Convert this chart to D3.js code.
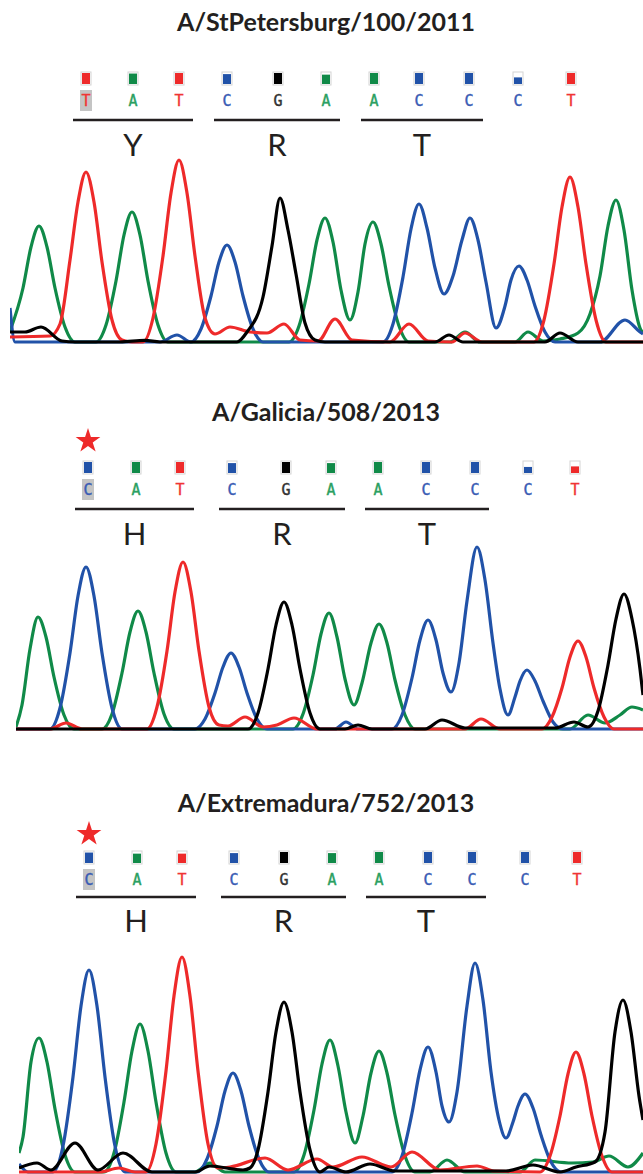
<!DOCTYPE html>
<html>
<head>
<meta charset="utf-8">
<script src="https://cdn.jsdelivr.net/npm/d3@7"></script>
<style>
  body { margin: 0; background: #fff; }
</style>
</head>
<body>
<svg id="chart"></svg>
<script>
// sample names and base calls
const titles = ["A/StPetersburg/100/2011", "A/Galicia/508/2013", "A/Extremadura/752/2013"];
const calls = ["TATCGAACCCT", "CATCGAACCCT", "CATCGAACCCT"];
const callScans = [
  [86, 133, 179, 227, 278, 326, 374, 419, 469, 518, 571],
  [88, 136, 180, 232, 286, 331, 378, 426, 475, 528, 575],
  [89, 137, 182, 234, 284, 332, 379, 428, 472, 525, 577]
];
const callQuality = [
  [1, 0.95, 1, 0.9, 1, 0.85, 1, 1, 1, 0.6, 1],
  [1, 1, 1, 0.9, 1, 0.9, 1, 1, 1, 0.55, 0.6],
  [0.95, 0.85, 0.85, 0.9, 1, 0.9, 1, 1, 1, 1, 1]
];
const codonLabels = [["Y", "R", "T"], ["H", "R", "T"], ["H", "R", "T"]];
const codonStarts = [0, 3, 6];
const starred = [false, true, true];

// trace points [scan, signal] per channel
const p1A = [[10,55],[23,270],[31,475],[39,580],[47,475],[55,270],[65,75],[75,0],[96,0],[106,85],[116,305],[124,535],[132,650],[140,535],[148,305],[158,85],[168,0],[289,0],[299,80],[309,290],[317,510],[325,620],[333,500],[341,260],[350,110],[358,250],[365,490],[373,600],[381,490],[389,280],[399,80],[409,0],[450,0],[465,50],[480,0],[515,0],[528,50],[543,5],[560,15],[578,45],[590,140],[600,330],[608,580],[616,710],[624,560],[632,260],[640,70],[643,45]];
const p1C = [[10,170],[15,0],[160,0],[177,35],[191,0],[201,65],[211,230],[219,400],[227,485],[235,400],[243,230],[253,65],[263,0],[383,0],[393,90],[403,325],[411,565],[419,690],[427,570],[435,370],[444,240],[453,330],[462,510],[470,620],[478,510],[486,300],[496,70],[505,180],[511,310],[519,380],[527,310],[535,180],[545,50],[555,0],[600,0],[625,110],[640,50],[643,40]];
const p1G = [[10,50],[25,50],[41,75],[62,5],[75,0],[120,0],[145,8],[160,0],[237,0],[247,50],[263,225],[272,480],[280,720],[288,560],[296,340],[305,95],[315,10],[325,0],[435,0],[449,35],[463,0],[545,0],[560,45],[578,0],[643,0]];
const p1T = [[10,25],[50,30],[60,90],[70,410],[78,700],[86,850],[94,700],[102,400],[112,110],[122,10],[132,0],[143,0],[153,120],[163,430],[171,745],[179,910],[187,745],[195,430],[205,120],[215,40],[230,75],[250,50],[267,45],[284,90],[300,10],[318,5],[335,115],[352,10],[390,0],[409,90],[428,5],[452,0],[465,45],[482,0],[534,0],[544,110],[554,390],[562,675],[570,825],[578,675],[586,390],[596,110],[606,0],[643,0]];

const p2A = [[16,10],[22,120],[30,400],[38,560],[46,460],[54,260],[64,70],[74,0],[102,0],[112,75],[122,280],[130,485],[138,590],[146,485],[154,280],[164,75],[174,0],[293,0],[303,75],[313,270],[321,475],[329,580],[337,460],[345,250],[354,120],[362,230],[371,430],[379,525],[387,430],[395,245],[405,70],[415,0],[570,0],[588,70],[605,30],[620,70],[632,110],[643,95]];
const p2C = [[16,0],[50,0],[60,105],[70,380],[78,665],[86,810],[94,665],[102,380],[112,105],[122,0],[195,0],[205,50],[215,180],[223,310],[231,380],[239,310],[247,180],[257,50],[267,0],[335,0],[346,35],[358,0],[392,0],[402,70],[412,255],[420,445],[428,545],[436,445],[443,280],[451,185],[459,330],[467,640],[477,910],[485,745],[493,430],[500,200],[508,70],[515,160],[520,240],[527,295],[535,240],[543,140],[553,35],[563,0],[643,0]];
const p2G = [[16,0],[248,0],[258,80],[268,300],[276,520],[284,635],[292,520],[300,300],[310,80],[320,0],[345,0],[358,20],[372,0],[425,0],[442,45],[465,5],[555,5],[574,35],[588,10],[598,90],[608,320],[616,550],[624,675],[632,550],[640,300],[643,170]];
const p2T = [[16,0],[50,0],[66,30],[82,0],[147,0],[157,110],[167,390],[175,685],[183,835],[191,685],[199,390],[209,110],[219,20],[228,15],[245,60],[263,10],[277,20],[294,55],[317,0],[465,0],[481,50],[500,0],[542,0],[552,60],[562,205],[570,360],[578,440],[586,360],[594,205],[604,60],[614,0],[643,0]];

const p3A = [[19,95],[23,175],[31,550],[39,670],[47,550],[55,315],[65,85],[75,0],[104,0],[114,95],[124,350],[132,605],[140,740],[148,605],[156,350],[166,95],[176,0],[195,0],[210,45],[225,0],[294,0],[304,85],[314,310],[322,540],[330,660],[338,530],[346,300],[355,145],[363,280],[371,495],[379,605],[387,495],[395,285],[405,80],[415,0],[430,0],[447,60],[465,0],[520,0],[535,60],[572,45],[593,50],[609,80],[628,25],[643,95]];
const p3C = [[19,40],[28,0],[53,0],[63,130],[73,475],[81,830],[89,1010],[97,830],[105,475],[115,130],[125,0],[197,0],[207,65],[217,230],[225,405],[233,495],[241,405],[249,230],[259,65],[269,0],[392,0],[402,80],[412,295],[420,510],[428,625],[436,500],[442,330],[449,250],[457,400],[467,830],[475,1045],[483,860],[491,500],[499,260],[506,170],[513,250],[518,330],[525,390],[533,320],[541,185],[551,50],[561,0],[643,0]];
const p3G = [[19,20],[37,45],[51,10],[75,145],[98,10],[123,95],[152,0],[195,0],[210,30],[243,10],[250,20],[258,110],[268,400],[276,700],[284,850],[292,700],[300,400],[310,110],[320,0],[329,25],[346,0],[370,40],[395,5],[506,5],[533,35],[560,0],[576,25],[595,50],[605,200],[615,700],[623,860],[631,700],[639,380],[643,260]];
const p3T = [[19,0],[100,0],[119,20],[135,0],[146,0],[156,140],[166,505],[174,880],[182,1075],[190,880],[198,505],[208,140],[218,20],[230,25],[265,70],[288,10],[317,65],[333,25],[362,75],[391,25],[412,100],[440,10],[477,30],[494,5],[540,0],[550,80],[560,280],[568,490],[576,600],[584,490],[592,280],[602,80],[612,0],[643,0]];

const traces = [
  { A: p1A, C: p1C, T: p1T, G: p1G },
  { A: p2A, C: p2C, T: p2T, G: p2G },
  { A: p3A, C: p3C, T: p3T, G: p3G }
];

const width = 643, height = 1174;
const traceColor = { A: "#108a48", C: "#2152a8", T: "#ee2a2a", G: "#000" };
const letterColor = { A: "#2ba062", C: "#3a5cb4", T: "#f03434", G: "#333" };

// vertical layout of each panel
const layout = [
  { title: 31, star: 0, box: 72, letter: 106, rule: 120, codon: 156, base: 342, left: 10 },
  { title: 421, star: 441, box: 461, letter: 495, rule: 509, codon: 545, base: 729, left: 16 },
  { title: 812, star: 834, box: 851, letter: 885, rule: 897, codon: 932, base: 1172, left: 19 }
];

const svg = d3.select("#chart").attr("width", width).attr("height", height);

const x = d3.scaleLinear().domain([0, 643]).range([0, 643]);

layout.forEach((L, i) => {
  const g = svg.append("g");
  const y = d3.scaleLinear().domain([0, 1100]).range([L.base, L.base - 220]);

  g.append("text")
    .attr("x", 326).attr("y", L.title)
    .attr("text-anchor", "middle")
    .attr("font-family", "Lato, 'Open Sans', sans-serif")
    .attr("font-weight", "bold")
    .attr("font-size", 25)
    .attr("fill", "#231f20")
    .text(titles[i]);

  if (starred[i]) {
    g.append("path")
      .attr("d", d3.symbol(d3.symbolStar, 190)())
      .attr("transform", `translate(${x(callScans[i][0])},${L.star})`)
      .attr("fill", "#ee2a2a");
  }

  const bases = calls[i].split("");

  // quality boxes
  const box = g.selectAll(".q").data(bases).enter().append("g")
    .attr("transform", (d, j) => `translate(${x(callScans[i][j]) - 5},${L.box})`);
  box.append("rect")
    .attr("width", 10).attr("height", 13)
    .attr("fill", "#fff").attr("stroke", "#d4d4d4").attr("stroke-width", 1);
  box.append("rect")
    .attr("x", 1).attr("width", 8)
    .attr("y", (d, j) => 1 + 11 * (1 - callQuality[i][j]))
    .attr("height", (d, j) => 11 * callQuality[i][j])
    .attr("fill", d => traceColor[d]);

  // highlight of first call
  g.append("rect")
    .attr("x", x(callScans[i][0]) - 6).attr("y", L.letter - 16)
    .attr("width", 12).attr("height", 21)
    .attr("fill", "#c4c4c4");

  g.selectAll(".call").data(bases).enter().append("text")
    .attr("x", (d, j) => x(callScans[i][j]))
    .attr("y", L.letter)
    .attr("text-anchor", "middle")
    .attr("font-family", "'DejaVu Sans Mono', monospace")
    .attr("font-size", 15)
    .attr("fill", d => letterColor[d])
    .attr("stroke", d => letterColor[d])
    .attr("stroke-width", 0.4)
    .text(d => d);

  // codon rules and labels
  codonStarts.forEach((s, k) => {
    const x0 = x(callScans[i][s]) - 13, x1 = x(callScans[i][s + 2]) + 14;
    g.append("line")
      .attr("x1", x0).attr("x2", x1)
      .attr("y1", L.rule).attr("y2", L.rule)
      .attr("stroke", "#231f20").attr("stroke-width", 2.5);
    g.append("text")
      .attr("x", (x0 + x1) / 2).attr("y", L.codon)
      .attr("text-anchor", "middle")
      .attr("font-family", "Lato, 'Open Sans', sans-serif")
      .attr("font-size", 31)
      .attr("fill", "#231f20")
      .text(codonLabels[i][k]);
  });

  // traces
  const clipId = "clip" + i;
  svg.append("clipPath").attr("id", clipId).append("rect")
    .attr("x", L.left).attr("y", L.base - 240)
    .attr("width", width - L.left).attr("height", 242);

  const line = d3.line()
    .x(d => x(d[0]))
    .y(d => y(d[1]))
    .curve(d3.curveMonotoneX);

  const tg = g.append("g").attr("clip-path", `url(#${clipId})`);
  ["A", "C", "T", "G"].forEach(ch => {
    tg.append("path")
      .datum(traces[i][ch])
      .attr("d", line)
      .attr("fill", "none")
      .attr("stroke", traceColor[ch])
      .attr("stroke-width", 3.2)
      .attr("stroke-linejoin", "round");
  });
});
</script>
</body>
</html>
